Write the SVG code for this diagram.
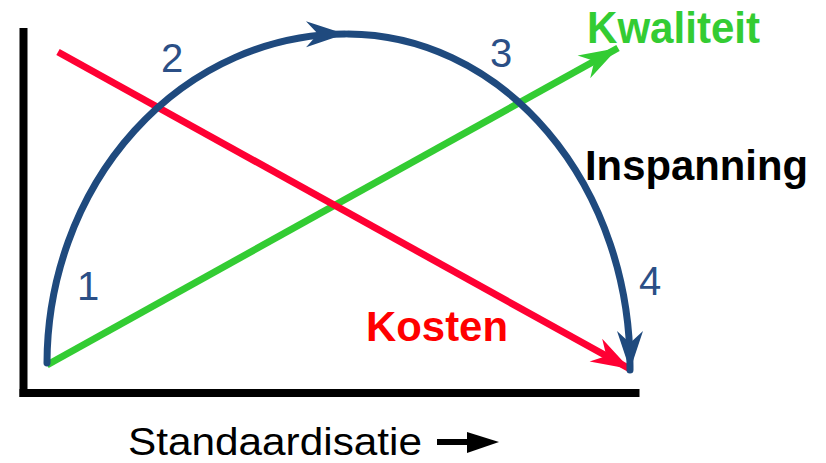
<svg xmlns="http://www.w3.org/2000/svg" width="826" height="463" viewBox="0 0 826 463">
<style>
.num{font-family:"Liberation Sans",Arial,sans-serif;font-size:40px;fill:#2b4f86}
.lbl{font-family:"Liberation Sans",Arial,sans-serif;font-weight:bold}
</style>
<defs>
<marker id="ahB" markerUnits="userSpaceOnUse" viewBox="-42 -15 44 30" markerWidth="44" markerHeight="30" refX="0" refY="0" orient="auto">
<path d="M0,0 L-39,-13 L-27,0 L-39,13 Z" fill="#1f4a7e"/>
</marker>
<marker id="ahG" markerUnits="userSpaceOnUse" viewBox="-42 -15 44 30" markerWidth="44" markerHeight="30" refX="0" refY="0" orient="auto">
<path d="M0,0 L-39,-13 L-27,0 L-39,13 Z" fill="#33cc33"/>
</marker>
<marker id="ahR" markerUnits="userSpaceOnUse" viewBox="-42 -15 44 30" markerWidth="44" markerHeight="30" refX="0" refY="0" orient="auto">
<path d="M0,0 L-39,-13 L-27,0 L-39,13 Z" fill="#ff0033"/>
</marker>
</defs>
<rect width="826" height="463" fill="#fff"/>
<g id="axes">
<rect x="19.5" y="28" width="8" height="369" fill="#000"/>
<rect x="19.5" y="389" width="620" height="8" fill="#000"/>
</g>
<g id="connectors" fill="none" stroke-width="7">
<path id="kwaliteit-line" d="M47,365 L618,48" stroke="#33cc33" marker-end="url(#ahG)"/>
<path id="kosten-line" d="M58,52 L630,369" stroke="#ff0033" marker-end="url(#ahR)"/>
<path id="arc1" d="M47,363 A299,330 0 0 1 345,34" stroke="#1f4a7e" stroke-linecap="round" marker-end="url(#ahB)"/>
<path id="arc2" d="M348,34 A283,332 0 0 1 630,366 L630,370" stroke="#1f4a7e" stroke-linecap="round" marker-end="url(#ahB)"/>
</g>
<g id="n1"><text class="num" x="77" y="300">1</text></g>
<g id="n2"><text class="num" x="161" y="72">2</text></g>
<g id="n3"><text class="num" x="490" y="67">3</text></g>
<g id="n4"><text class="num" x="639" y="295">4</text></g>
<g id="kwaliteit"><text class="lbl" x="587" y="43" font-size="44" fill="#33cc33" textLength="173" lengthAdjust="spacingAndGlyphs">Kwaliteit</text></g>
<g id="inspanning"><text class="lbl" x="585" y="180" font-size="42" fill="#000" textLength="223" lengthAdjust="spacingAndGlyphs">Inspanning</text></g>
<g id="kosten"><text class="lbl" x="366" y="341" font-size="42" fill="#ff0000" textLength="142" lengthAdjust="spacingAndGlyphs">Kosten</text></g>
<g id="xlabel">
<text x="128" y="455" font-family="Liberation Sans,Arial,sans-serif" font-size="38" fill="#000" textLength="294" lengthAdjust="spacingAndGlyphs">Standaardisatie</text>
<rect x="437" y="439" width="32" height="6" fill="#000"/>
<path d="M467,432 L499,442 L467,453 Z" fill="#000"/>
</g>
</svg>
